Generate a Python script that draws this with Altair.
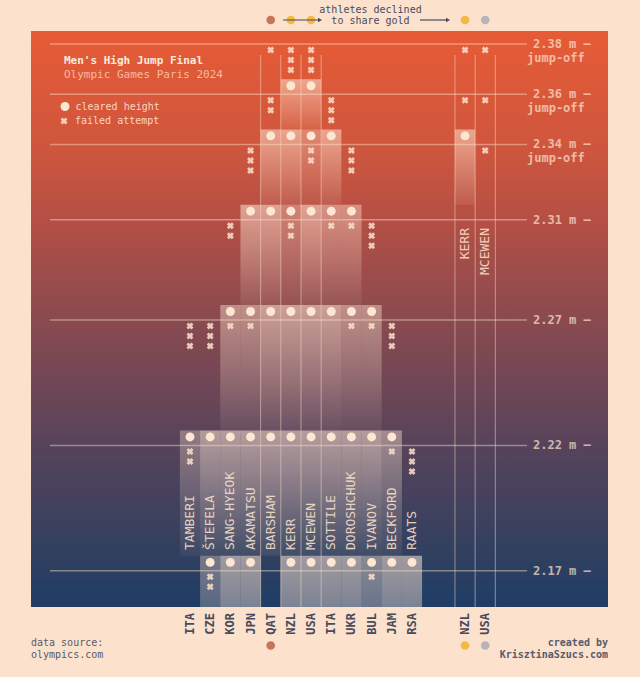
import altair as alt
import pandas as pd
import jinja2

# ---------------- data ----------------
HEIGHTS = [2.17, 2.22, 2.27, 2.31, 2.34, 2.36, 2.38]
NAMES = ["TAMBERI", "ŠTEFELA", "SANG-HYEOK", "AKAMATSU", "BARSHAM", "KERR",
         "MCEWEN", "SOTTILE", "DOROSHCHUK", "IVANOV", "BECKFORD", "RAATS"]
COUNTRIES = ["ITA", "CZE", "KOR", "JPN", "QAT", "NZL", "USA", "ITA", "UKR",
             "BUL", "JAM", "RSA"]
# attempts at 2.17, 2.22, 2.27, 2.31, 2.34, 2.36, 2.38  ("-" passed, "" out)
RESULTS = [
    ["-", "xxo", "xxx", "", "", "", ""],
    ["xxo", "o", "xxx", "", "", "", ""],
    ["o", "o", "xo", "xx", "", "", ""],
    ["o", "o", "xo", "o", "xxx", "", ""],
    ["-", "o", "o", "o", "o", "xx", "x"],
    ["o", "o", "o", "xxo", "o", "o", "xxx"],
    ["o", "o", "o", "o", "xxo", "o", "xxx"],
    ["o", "o", "o", "xo", "o", "xxx", ""],
    ["o", "o", "xo", "xo", "xxx", "", ""],
    ["xo", "o", "xo", "xxx", "", "", ""],
    ["o", "xo", "xxx", "", "", "", ""],
    ["o", "xxx", "", "", "", "", ""],
]
JO_HEIGHTS = [2.38, 2.36, 2.34]
JO_NAMES = ["KERR", "MCEWEN"]
JO_COUNTRIES = ["NZL", "USA"]
JO_RESULTS = [["x", "x", "o"], ["x", "x", "x"]]
SHARED_MEDALS = ["", "", "", "", "bronze", "gold", "gold", "", "", "", "", ""]
FINAL_MEDALS = ["", "", "", "", "bronze", "", "", "", "", "", "", ""]
JO_MEDALS = ["gold", "silver"]
MEDAL_DOMAIN = ["gold", "silver", "bronze"]
MEDAL_RANGE = ["#F5B843", "#B8B5BA", "#C9735B"]

# ---------------- layout constants ----------------
W, H = 577, 576
JO_START = 13.63
XS = alt.Scale(domain=[-7.879, 20.714], nice=False, zero=False)
YS = alt.Scale(domain=[2.1556, 2.3852], nice=False, zero=False)
PEACH = "#FCE1CC"
INK = "#474B5C"
FONT = "DejaVu Sans Mono"
ATT_OPACITY = {0: 1.0, 1: 0.8, 2: 0.62}

# ---------------- build tables ----------------
cleared, fails, rects = [], [], []


def add(col, h, res):
    idx = HEIGHTS.index(h)
    lower = HEIGHTS[idx - 1] if idx > 0 else 2.10
    nx = res.count("x")
    for k in range(nx):
        fails.append(dict(col=col, h=h, k=k))
    if "o" in res:
        cleared.append(dict(col=col, h=h))
        rects.append(dict(col=col, h=h, lower=lower, op=ATT_OPACITY[nx]))


for i, row in enumerate(RESULTS):
    for h, res in zip(HEIGHTS, row):
        add(i, h, res)
for j, row in enumerate(JO_RESULTS):
    for h, res in zip(JO_HEIGHTS, row):
        add(JO_START + j, h, res)

cleared = pd.DataFrame(cleared)
fails = pd.DataFrame(fails)
rects = pd.DataFrame(rects)

athletes = pd.DataFrame({"col": list(range(len(NAMES))), "name": NAMES, "country": COUNTRIES})
jo_athletes = pd.DataFrame({"col": [JO_START + j for j in range(len(JO_NAMES))],
                            "name": JO_NAMES, "country": JO_COUNTRIES})
all_cols = pd.concat([athletes, jo_athletes])

medal_cols = [i for i, m in enumerate(SHARED_MEDALS) if m] + [JO_START + j for j in range(len(JO_NAMES))]
bounds = sorted(set([c - 0.5 for c in medal_cols] + [c + 0.5 for c in medal_cols]))
vlines = pd.DataFrame({"b": bounds})

top_medals = pd.DataFrame(
    [dict(col=i, medal=m) for i, m in enumerate(SHARED_MEDALS) if m]
    + [dict(col=JO_START + j, medal=m) for j, m in enumerate(JO_MEDALS)])
bottom_medals = pd.DataFrame(
    [dict(col=i, medal=m) for i, m in enumerate(FINAL_MEDALS) if m]
    + [dict(col=JO_START + j, medal=m) for j, m in enumerate(JO_MEDALS)])

hdf = pd.DataFrame({"h": HEIGHTS, "label": [f"{h:.2f} m –" for h in HEIGHTS]})
jodf = pd.DataFrame({"h": JO_HEIGHTS, "label": ["jump-off"] * len(JO_HEIGHTS)})

X = lambda f: alt.X(f, scale=XS, axis=None)
Y = lambda f: alt.Y(f, scale=YS, axis=None)
one = pd.DataFrame({"a": [0]})

layers = []

# background gradient
bg_grad = {"gradient": "linear", "x1": 0, "y1": 0, "x2": 0, "y2": 1,
           "stops": [{"offset": 0, "color": "#E75B36"},
                     {"offset": 0.2, "color": "#CF563D"},
                     {"offset": 0.33, "color": "#B44F45"},
                     {"offset": 0.5, "color": "#8A4A4F"},
                     {"offset": 0.72, "color": "#57435B"},
                     {"offset": 0.9, "color": "#32405F"},
                     {"offset": 1, "color": "#1F3D66"}]}
layers.append(alt.Chart(one).mark_rect(fill=bg_grad).encode(
    x=alt.value(0), x2=alt.value(W), y=alt.value(0), y2=alt.value(H)))

# light columns below cleared heights
col_grad = {"gradient": "linear", "x1": 0, "y1": 0, "x2": 0, "y2": 1,
            "stops": [{"offset": 0, "color": "rgba(253,230,212,0.55)"},
                      {"offset": 1, "color": "rgba(253,230,212,0.08)"}]}
layers.append(alt.Chart(rects).transform_calculate(
    x1="datum.col - 0.5", x2="datum.col + 0.5").mark_rect(
    fill=col_grad, yOffset=-15, y2Offset=-15, clip=True).encode(
    x=X("x1:Q"), x2="x2:Q", y=Y("h:Q"), y2="lower:Q",
    opacity=alt.Opacity("op:Q", scale=None)))

# height lines
layers.append(alt.Chart(hdf).mark_rule(color=PEACH, opacity=0.45, strokeWidth=1.5).encode(
    x=alt.value(19), x2=alt.value(496), y=Y("h:Q")))

# vertical medal column lines
layers.append(alt.Chart(vlines).mark_rule(color=PEACH, opacity=0.5, strokeWidth=1).encode(
    x=X("b:Q"), y=alt.value(24), y2=alt.value(H)))

# cleared dots
layers.append(alt.Chart(cleared).mark_circle(color="#FDE6D2", opacity=1, size=80, yOffset=-8.5).encode(
    x=X("col:Q"), y=Y("h:Q")))

# failed attempts
for k in range(3):
    layers.append(alt.Chart(fails).transform_filter(f"datum.k == {k}").mark_point(
        shape="cross", angle=45, filled=True, size=50, color=PEACH, opacity=0.85,
        yOffset=6 + 10 * k).encode(x=X("col:Q"), y=Y("h:Q")))

# athlete names
layers.append(alt.Chart(athletes).mark_text(
    angle=270, align="left", baseline="middle", font=FONT, fontSize=13,
    color=PEACH, opacity=0.88).encode(x=X("col:Q"), y=alt.value(519), text="name:N"))
layers.append(alt.Chart(jo_athletes).mark_text(
    angle=270, align="right", baseline="middle", font=FONT, fontSize=13,
    color=PEACH, opacity=0.88).encode(x=X("col:Q"), y=alt.value(197), text="name:N"))

# country codes
layers.append(alt.Chart(all_cols).mark_text(
    angle=270, align="right", baseline="middle", font=FONT, fontSize=12,
    fontWeight="bold", color=INK).encode(x=X("col:Q"), y=alt.value(582), text="country:N"))

# height labels
layers.append(alt.Chart(hdf).mark_text(
    align="left", baseline="middle", font=FONT, fontSize=12, fontWeight="bold",
    color=PEACH, opacity=0.72).encode(x=alt.value(502), y=Y("h:Q"), text="label:N"))
layers.append(alt.Chart(jodf).mark_text(
    align="left", baseline="middle", font=FONT, fontSize=12, fontWeight="bold",
    color=PEACH, opacity=0.72, yOffset=14).encode(x=alt.value(496), y=Y("h:Q"), text="label:N"))

medal_color = alt.Color("medal:N", scale=alt.Scale(domain=MEDAL_DOMAIN, range=MEDAL_RANGE), legend=None)

# medal dots
layers.append(alt.Chart(bottom_medals).mark_circle(size=75, opacity=1).encode(
    x=X("col:Q"), y=alt.value(614.5), color=medal_color))
layers.append(alt.Chart(top_medals).mark_circle(size=75, opacity=1).encode(
    x=X("col:Q"), y=alt.value(-11), color=medal_color))


def text(t, x, y, **kw):
    return alt.Chart(pd.DataFrame({"t": [t]})).mark_text(font=FONT, **kw).encode(
        x=alt.value(x), y=alt.value(y), text="t:N")


# arrows at top
layers.append(alt.Chart(one).mark_rule(color=INK, strokeWidth=1.2).encode(
    x=alt.value(252), x2=alt.value(287), y=alt.value(-11)))
layers.append(alt.Chart(one).mark_rule(color=INK, strokeWidth=1.2).encode(
    x=alt.value(389), x2=alt.value(415), y=alt.value(-11)))
layers.append(alt.Chart(pd.DataFrame({"x": [289, 417]})).mark_point(
    shape="triangle-right", filled=True, size=22, color=INK, opacity=1).encode(
    x=alt.X("x:Q", scale=None), y=alt.value(-11)))

layers.append(text("athletes declined", 339.5, -21.5, fontSize=10, color=INK, align="center", baseline="middle"))
layers.append(text("to share gold", 339.5, -10.5, fontSize=10, color=INK, align="center", baseline="middle"))

# title & legend
layers.append(text("Men's High Jump Final", 33, 30, fontSize=11, fontWeight="bold",
                   color="#FDE9DA", align="left", baseline="middle"))
layers.append(text("Olympic Games Paris 2024", 33, 44, fontSize=11,
                   color="#F7B9A0", align="left", baseline="middle"))
layers.append(alt.Chart(one).mark_circle(size=80, color="#FDE6D2", opacity=1).encode(
    x=alt.value(34), y=alt.value(75.5)))
layers.append(alt.Chart(one).mark_point(shape="cross", angle=45, filled=True, size=50,
                                        color=PEACH, opacity=0.85).encode(
    x=alt.value(33), y=alt.value(90)))
layers.append(text("cleared height", 44.5, 75.5, fontSize=10, color="#F9D5C2", align="left", baseline="middle"))
layers.append(text("failed attempt", 44, 90, fontSize=10, color="#F9D5C2", align="left", baseline="middle"))

# footer
layers.append(text("data source:", 0, 611.5, fontSize=10, color="#575B6B", align="left", baseline="middle"))
layers.append(text("olympics.com", 0, 624, fontSize=10, color="#575B6B", align="left", baseline="middle"))
layers.append(text("created by", W, 611.5, fontSize=10, fontWeight="bold", color="#575B6B", align="right", baseline="middle"))
layers.append(text("KrisztinaSzucs.com", W, 624, fontSize=10, fontWeight="bold", color="#575B6B", align="right", baseline="middle"))

chart = alt.layer(*layers).properties(
    width=W, height=H,
    padding={"left": 31, "top": 31, "right": 30, "bottom": 66},
    autosize=alt.AutoSizeParams(type="none"),
    background=PEACH,
).configure_view(strokeWidth=0)

PAGE = jinja2.Template("""<!DOCTYPE html>
<html>
<head>
  <meta charset="utf-8">
  <style>
    html, body { background: #FCE1CC; margin: 0; padding: 0; overflow: hidden; }
    #{{ output_div }}.vega-embed { width: 100%; display: flex; }
  </style>
  <script type="text/javascript" src="{{ base_url }}/vega@{{ vega_version }}"></script>
  <script type="text/javascript" src="{{ base_url }}/vega-lite@{{ vegalite_version }}"></script>
  <script type="text/javascript" src="{{ base_url }}/vega-embed@{{ vegaembed_version }}"></script>
</head>
<body>
  <div id="{{ output_div }}"></div>
  <script type="text/javascript">
    vegaEmbed("#{{ output_div }}", {{ spec }}, {{ embed_options }}).catch(console.error);
  </script>
</body>
</html>""")

try:
    chart.save("out.html", embed_options={"renderer": "svg", "actions": False}, template=PAGE)
except Exception:
    chart.save("out.html", embed_options={"renderer": "svg", "actions": False})
